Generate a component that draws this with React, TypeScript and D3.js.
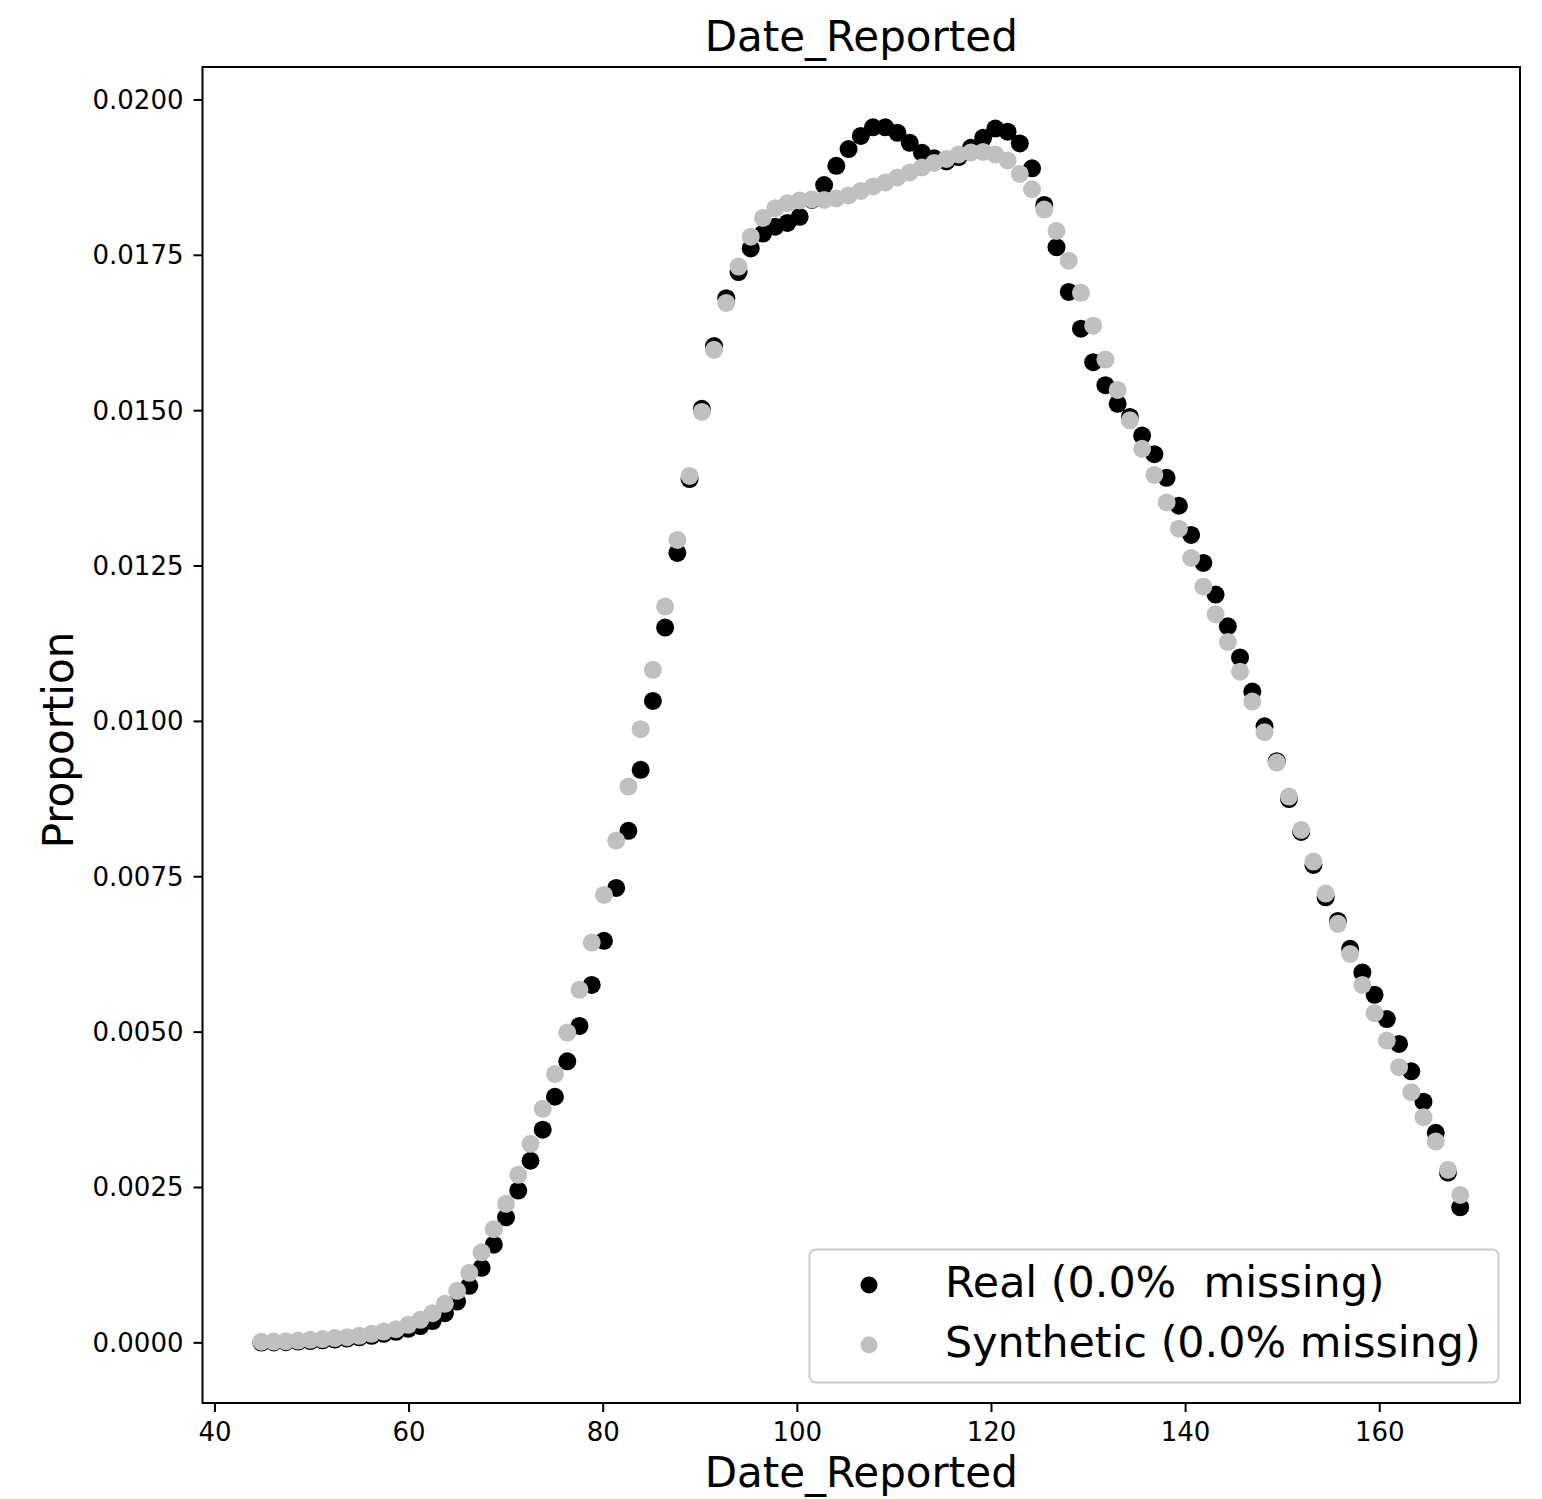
import React from "react";
import * as d3 from "d3";

const xs = [44.79,46.05,47.31,48.57,49.83,51.09,52.35,53.61,54.87,56.13,57.39,58.65,59.91,61.17,62.43,63.69,64.95,66.21,67.47,68.73,69.99,71.25,72.51,73.77,75.03,76.30,77.56,78.82,80.08,81.34,82.60,83.86,85.12,86.38,87.64,88.90,90.16,91.42,92.68,93.94,95.20,96.46,97.72,98.98,100.24,101.50,102.76,104.02,105.28,106.54,107.80,109.06,110.32,111.58,112.84,114.10,115.36,116.62,117.88,119.14,120.40,121.66,122.92,124.18,125.44,126.70,127.96,129.22,130.48,131.74,133.00,134.26,135.52,136.78,138.04,139.31,140.57,141.83,143.09,144.35,145.61,146.87,148.13,149.39,150.65,151.91,153.17,154.43,155.69,156.95,158.21,159.47,160.73,161.99,163.25,164.51,165.77,167.03,168.29];

const realValues = [0.000005,0.000007,0.00001,0.00002,0.000029,0.00004,0.000053,0.000069,0.000088,0.000113,0.000145,0.000177,0.000225,0.00027,0.00035,0.000478,0.000665,0.000917,0.001207,0.00158,0.00202,0.00245,0.00293,0.00343,0.00396,0.00453,0.0051,0.00576,0.00647,0.00732,0.00824,0.00922,0.01033,0.01151,0.01271,0.0139,0.01503,0.01604,0.01681,0.01723,0.01761,0.01785,0.01796,0.01802,0.01812,0.01839,0.01863,0.01894,0.01921,0.01942,0.01956,0.01956,0.01947,0.01931,0.01915,0.01906,0.01901,0.01908,0.01923,0.01939,0.01954,0.01949,0.0193,0.0189,0.01831,0.01763,0.01691,0.01632,0.01578,0.01541,0.01511,0.0149,0.0146,0.0143,0.01392,0.01347,0.013,0.01255,0.01204,0.01153,0.01103,0.01048,0.00992,0.00936,0.00875,0.00822,0.00769,0.00717,0.00679,0.00634,0.00596,0.0056,0.00521,0.00481,0.00437,0.00388,0.00338,0.00274,0.00218];

const syntheticValues = [0.000019,0.00002,0.000024,0.000037,0.000048,0.00006,0.000076,0.000092,0.000113,0.000145,0.000182,0.00022,0.00029,0.00037,0.000478,0.000628,0.000837,0.001126,0.001456,0.001829,0.002237,0.002703,0.003202,0.003765,0.004328,0.004993,0.00568,0.006441,0.007208,0.008082,0.008951,0.009875,0.010829,0.011847,0.01292,0.01395,0.01498,0.01598,0.016734,0.017318,0.0178,0.018101,0.018257,0.018338,0.018383,0.018399,0.018391,0.018415,0.018463,0.018536,0.018608,0.018672,0.018753,0.018833,0.018914,0.018986,0.019051,0.019123,0.019155,0.019163,0.019123,0.019027,0.018809,0.018563,0.018236,0.017892,0.017414,0.016896,0.016368,0.015823,0.015334,0.014845,0.014386,0.013966,0.013524,0.013101,0.012629,0.012167,0.011726,0.011276,0.0108,0.010319,0.009826,0.009337,0.00879,0.008254,0.007744,0.007229,0.006742,0.006259,0.00576,0.005305,0.004864,0.004436,0.004034,0.003632,0.003239,0.002784,0.002381];

const xTicks = [40, 60, 80, 100, 120, 140, 160];
const yTicks = [0, 0.0025, 0.005, 0.0075, 0.01, 0.0125, 0.015, 0.0175, 0.02];
const legendLabels = ["Real (0.0%  missing)", "Synthetic (0.0% missing)"];
const seriesColors = ["#000000", "#c0c0c0"];
const titleText = "Date_Reported";
const xLabelText = "Date_Reported";
const yLabelText = "Proportion";

const W = 1542;
const H = 1499;
const L = 202.5, R = 1520, T = 67, B = 1403;
const FONT = "'DejaVu Sans', sans-serif";

export default function App() {
  const x = d3.scaleLinear().domain([38.72, 174.45]).range([L, R]);
  const y = d3.scaleLinear().domain([-0.000968, 0.02053]).range([B, T]);
  const fmt = d3.format(".4f");
  const r = 9;
  const series = [realValues, syntheticValues];

  return (
    <svg width={W} height={H} style={{ position: "absolute", left: 0, top: 0, background: "#fff" }} fontFamily={FONT}>
      <rect x={0} y={0} width={W} height={H} fill="#fff" />
      {series.map((vals, si) => (
        <g key={si} fill={seriesColors[si]}>
          {vals.map((v, i) => (
            <circle key={i} cx={x(xs[i])} cy={y(v)} r={r} />
          ))}
        </g>
      ))}
      <rect x={L} y={T} width={R - L} height={B - T} fill="none" stroke="#000" strokeWidth={2} />
      {xTicks.map((t) => (
        <g key={t}>
          <line x1={x(t)} x2={x(t)} y1={B} y2={B + 9} stroke="#000" strokeWidth={2} />
          <text x={x(t)} y={B + 38} textAnchor="middle" fontSize={26} fill="#000">{t}</text>
        </g>
      ))}
      {yTicks.map((t) => (
        <g key={t}>
          <line x1={L - 9} x2={L} y1={y(t)} y2={y(t)} stroke="#000" strokeWidth={2} />
          <text x={L - 19} y={y(t)} textAnchor="end" dominantBaseline="central" fontSize={26} fill="#000">{fmt(t)}</text>
        </g>
      ))}
      <text x={(L + R) / 2} y={51} textAnchor="middle" fontSize={42} fill="#000">{titleText}</text>
      <text x={(L + R) / 2} y={1487} textAnchor="middle" fontSize={42} fill="#000">{xLabelText}</text>
      <text transform={`translate(73, ${(T + B) / 2 + 5}) rotate(-90)`} textAnchor="middle" fontSize={42} fill="#000">{yLabelText}</text>
      <g>
        <rect x={809.5} y={1249.5} width={689} height={133} rx={6} fill="#fff" fillOpacity={0.8} stroke="#cccccc" strokeWidth={2} />
        {legendLabels.map((lab, i) => (
          <g key={lab}>
            <circle cx={869} cy={1285 + i * 60} r={8.5} fill={seriesColors[i]} />
            <text x={945} y={1297 + i * 60} fontSize={42.8} fill="#000" style={{ whiteSpace: "pre" }}>{lab}</text>
          </g>
        ))}
      </g>
    </svg>
  );
}
